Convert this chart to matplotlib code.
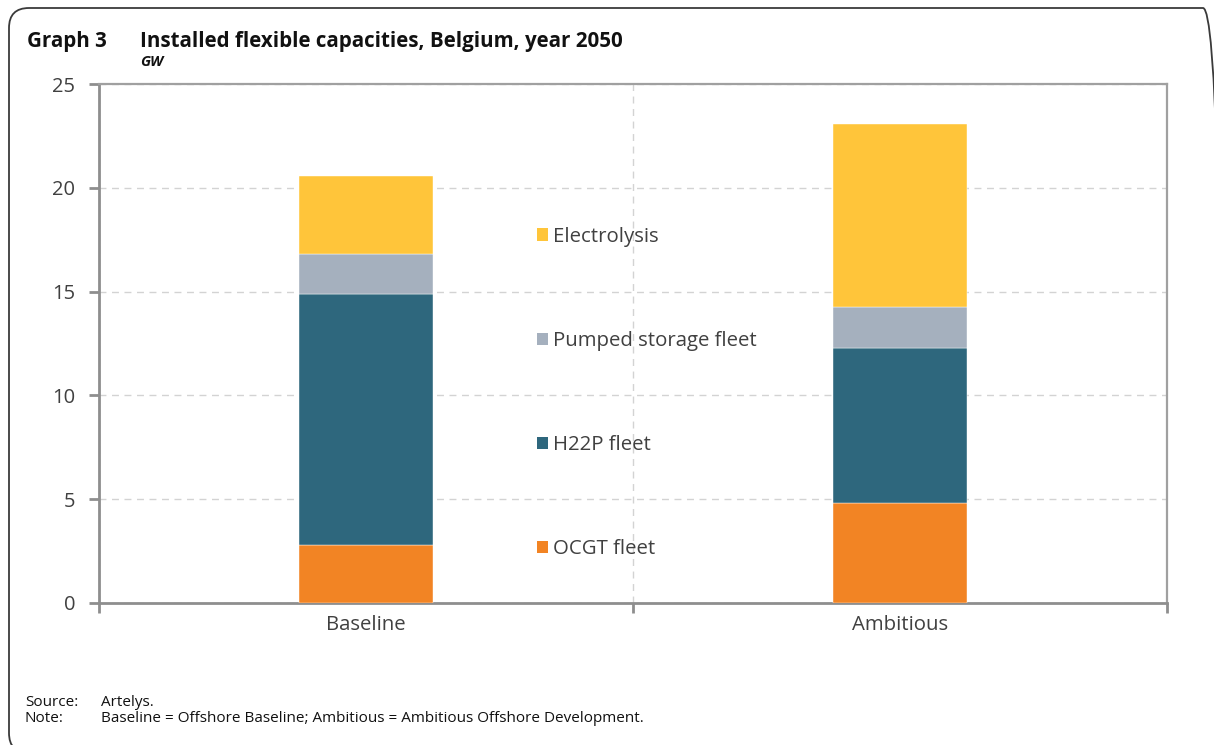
import matplotlib
matplotlib.use("Agg")
import matplotlib.pyplot as plt
from matplotlib.patches import FancyBboxPatch, Patch
from matplotlib.transforms import IdentityTransform

categories = ["Baseline", "Ambitious"]
series_names = ["OCGT fleet", "H22P fleet", "Pumped storage fleet", "Electrolysis"]
ocgt = [2.8, 4.8]
h22p = [12.1, 7.5]
pumped = [1.9, 1.95]
electrolysis = [3.75, 8.8]
yticks = [0, 5, 10, 15, 20, 25]

colors = ["#F28424", "#2E677D", "#A5B0BE", "#FFC53A"]
FONT = "Open Sans"
plt.rcParams["font.family"] = [FONT, "DejaVu Sans"]
text_col = "#404040"
spine_col = "#8E8E8E"

W, H = 1214, 745
fig = plt.figure(figsize=(W / 100, H / 100), dpi=100)
ax = fig.add_axes([99 / W, 1 - 603 / H, (1167 - 99) / W, (603 - 84) / H])

# rounded frame (pixel coordinates)
frame = FancyBboxPatch((9, -8), 1214, H - 8 + 8,
                       boxstyle="round,pad=0,rounding_size=20",
                       transform=IdentityTransform(), facecolor="none",
                       edgecolor="#3a3a3a", linewidth=1.3, clip_on=False, zorder=0)
fig.patches.append(frame)

x = list(range(len(categories)))
series = [ocgt, h22p, pumped, electrolysis]
bottom = [0.0] * len(categories)
for vals, c, name in zip(series, colors, series_names):
    ax.bar(x, vals, width=0.25, bottom=bottom, color=c, edgecolor="white",
           linewidth=0.3, label=name, zorder=3)
    bottom = [b + v for b, v in zip(bottom, vals)]

ax.set_xlim(-0.5, 1.5)
ax.set_ylim(0, 25)
ax.set_yticks(yticks)
ax.set_yticklabels([str(t) for t in yticks])
ax.set_xticks([-0.5, 0.5, 1.5])
ax.set_xticklabels(["", "", ""])
ax.set_xticks(x, minor=True)
ax.set_xticklabels(categories, minor=True)
ax.tick_params(axis="x", which="minor", length=0, pad=9, labelsize=14.7, labelcolor=text_col)
ax.tick_params(axis="x", which="major", length=7, width=2, color=spine_col, direction="out")
ax.tick_params(axis="y", length=7, width=2, color=spine_col, direction="out",
               pad=10, labelsize=14.5, labelcolor=text_col)

for s in ax.spines.values():
    s.set_color(spine_col)
    s.set_linewidth(2)
for s in ["top", "right"]:
    ax.spines[s].set_color("#A0A0A0")
    ax.spines[s].set_linewidth(1.6)

ax.grid(axis="y", which="major", linestyle=(0, (5, 4)), color="#D3D3D3", linewidth=1, zorder=0)
ax.grid(axis="x", which="major", linestyle=(0, (5, 4)), color="#D3D3D3", linewidth=1, zorder=0)

handles = [Patch(facecolor=c, edgecolor="none") for c in colors][::-1]
labels = series_names[::-1]
leg = ax.legend(handles, labels, loc="center left",
                bbox_to_anchor=((537 - 99) / 1068, (603 - 393) / 519),
                frameon=False, fontsize=14.7, labelspacing=4.12,
                handlelength=0.55, handleheight=0.55, handletextpad=0.25,
                borderpad=0, borderaxespad=0)
for t in leg.get_texts():
    t.set_color(text_col)

# titles
fig.text(27 / W, 1 - 42 / H, "Graph 3", fontsize=14.8, fontweight="bold",
         color="#111111", va="center", ha="left")
fig.text(140 / W, 1 - 42 / H, "Installed flexible capacities, Belgium, year 2050",
         fontsize=14.8, fontweight="bold", color="#111111", va="center", ha="left")
fig.text(140 / W, 1 - 62 / H, "GW", fontsize=10.5, fontweight="bold", style="italic",
         color="#111111", va="center", ha="left")

# footer
fig.text(25 / W, 1 - 703 / H, "Source:", fontsize=11, color="#111111", va="center")
fig.text(101 / W, 1 - 703 / H, "Artelys.", fontsize=11, color="#111111", va="center")
fig.text(25 / W, 1 - 719 / H, "Note:", fontsize=11, color="#111111", va="center")
fig.text(101 / W, 1 - 719 / H,
         "Baseline = Offshore Baseline; Ambitious = Ambitious Offshore Development.",
         fontsize=11, color="#111111", va="center")

fig.savefig("out.png", dpi=100)
